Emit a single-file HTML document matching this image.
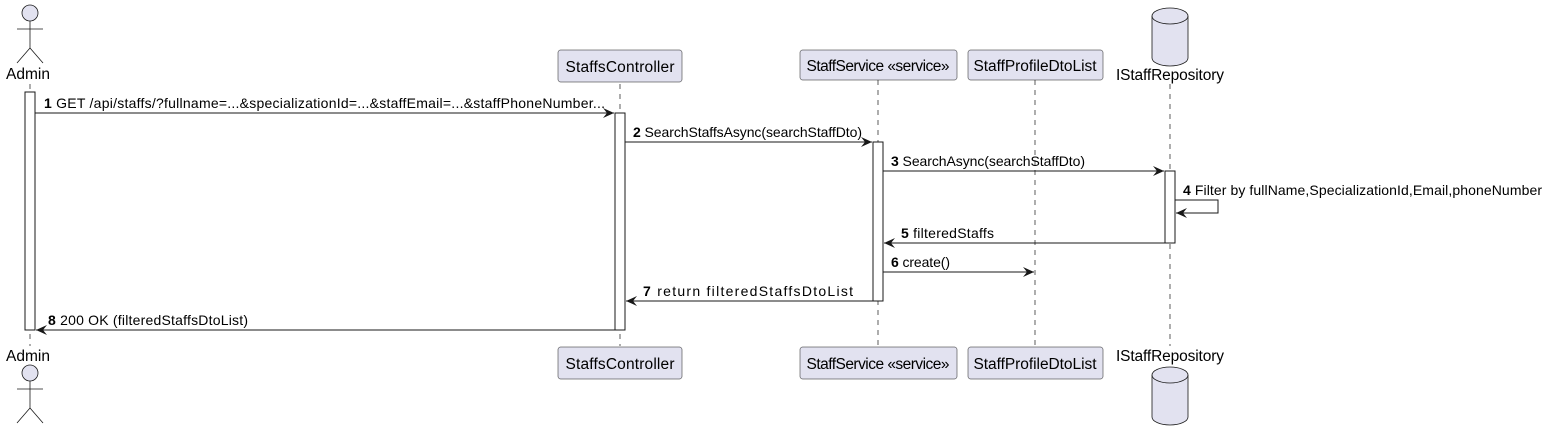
<!DOCTYPE html>
<html><head><meta charset="utf-8"><style>
html,body{margin:0;padding:0;background:#fff;}
svg{display:block;font-family:"Liberation Sans",sans-serif;}
</style></head><body>
<svg width="1547" height="428" viewBox="0 0 1547 428" xmlns="http://www.w3.org/2000/svg">
<defs>
<marker id="ah" markerWidth="12" markerHeight="10" refX="11" refY="5" orient="auto" markerUnits="userSpaceOnUse">
<path d="M0,0 L11,5 L0,10 L4,5 Z" fill="#181818"/>
</marker>
</defs>
<g stroke="#181818" stroke-width="0.7" stroke-dasharray="5,5">
<line x1="30" y1="84" x2="30" y2="346"/>
<line x1="620" y1="84" x2="620" y2="346"/>
<line x1="878" y1="80" x2="878" y2="346"/>
<line x1="1035" y1="80" x2="1035" y2="346"/>
<line x1="1170" y1="84" x2="1170" y2="346"/>
</g>
<g stroke="#181818" fill="none" stroke-width="0.8">
<circle cx="30" cy="13" r="8" fill="#E2E2F0"/>
<line x1="30" y1="21" x2="30" y2="48"/><line x1="17" y1="29" x2="43" y2="29"/>
<line x1="30" y1="48" x2="17" y2="63"/><line x1="30" y1="48" x2="43" y2="63"/>
<circle cx="30" cy="373" r="8" fill="#E2E2F0"/>
<line x1="30" y1="381" x2="30" y2="408"/><line x1="17" y1="389" x2="43" y2="389"/>
<line x1="30" y1="408" x2="17" y2="423"/><line x1="30" y1="408" x2="43" y2="423"/>
</g>
<g font-size="15.5" fill="#000">
<text x="28" y="79" text-anchor="middle">Admin</text>
<text x="28" y="361" text-anchor="middle">Admin</text>
</g>
<g fill="#E2E2F0" stroke="#181818" stroke-width="0.5">
<rect x="558" y="50" width="124" height="32" rx="2.5"/>
<rect x="800" y="50" width="157" height="30" rx="2.5"/>
<rect x="968" y="50" width="135" height="30" rx="2.5"/>
<rect x="558" y="347" width="124" height="32" rx="2.5"/>
<rect x="800" y="347" width="157" height="32" rx="2.5"/>
<rect x="968" y="347" width="135" height="32" rx="2.5"/>
</g>
<g font-size="15.5" fill="#000" text-anchor="middle">
<text x="620" y="72" textLength="109">StaffsController</text>
<text x="878" y="71" textLength="143">StaffService «service»</text>
<text x="1035" y="71" textLength="123">StaffProfileDtoList</text>
<text x="620" y="369" textLength="109">StaffsController</text>
<text x="878" y="369" textLength="143">StaffService «service»</text>
<text x="1035" y="369" textLength="123">StaffProfileDtoList</text>
<text x="1170" y="80" textLength="108">IStaffRepository</text>
<text x="1170" y="361" textLength="108">IStaffRepository</text>
</g>
<g fill="#E2E2F0" stroke="#181818" stroke-width="0.8">
<path d="M1152,16 A18,8 0 0 1 1188,16 L1188,58 A18,8 0 0 1 1152,58 Z"/>
<path d="M1152,16 A18,8 0 0 0 1188,16" fill="none"/>
<path d="M1152,375 A18,8 0 0 1 1188,375 L1188,417 A18,8 0 0 1 1152,417 Z"/>
<path d="M1152,375 A18,8 0 0 0 1188,375" fill="none"/>
</g>
<g fill="#fff" stroke="#181818" stroke-width="1">
<rect x="25" y="92" width="10" height="238"/>
<rect x="615" y="113" width="10" height="217"/>
<rect x="873" y="142" width="10" height="159"/>
<rect x="1165" y="171" width="10" height="72"/>
</g>
<g stroke="#181818" stroke-width="1" fill="none" marker-end="url(#ah)">
<line x1="35" y1="113" x2="614" y2="113"/>
<line x1="625" y1="142" x2="872" y2="142"/>
<line x1="883" y1="171" x2="1164" y2="171"/>
<polyline points="1175,200 1218,200 1218,213 1176,213"/>
<line x1="1165" y1="243" x2="884" y2="243"/>
<line x1="883" y1="272" x2="1034" y2="272"/>
<line x1="873" y1="301" x2="626" y2="301"/>
<line x1="615" y1="330" x2="36" y2="330"/>
</g>
<g font-size="14" fill="#000">
<text x="44" y="108" textLength="561"><tspan font-weight="bold">1</tspan> GET /api/staffs/?fullname=...&amp;specializationId=...&amp;staffEmail=...&amp;staffPhoneNumber...</text>
<text x="633" y="137" textLength="229"><tspan font-weight="bold">2</tspan> SearchStaffsAsync(searchStaffDto)</text>
<text x="891" y="166" textLength="194"><tspan font-weight="bold">3</tspan> SearchAsync(searchStaffDto)</text>
<text x="1183" y="195" textLength="359"><tspan font-weight="bold">4</tspan> Filter by fullName,SpecializationId,Email,phoneNumber</text>
<text x="901" y="238" textLength="93"><tspan font-weight="bold">5</tspan> filteredStaffs</text>
<text x="891" y="267" textLength="59"><tspan font-weight="bold">6</tspan> create()</text>
<text x="643" y="296" textLength="210"><tspan font-weight="bold">7</tspan> return filteredStaffsDtoList</text>
<text x="48" y="325" textLength="200"><tspan font-weight="bold">8</tspan> 200 OK (filteredStaffsDtoList)</text>
</g>
</svg>
</body></html>
